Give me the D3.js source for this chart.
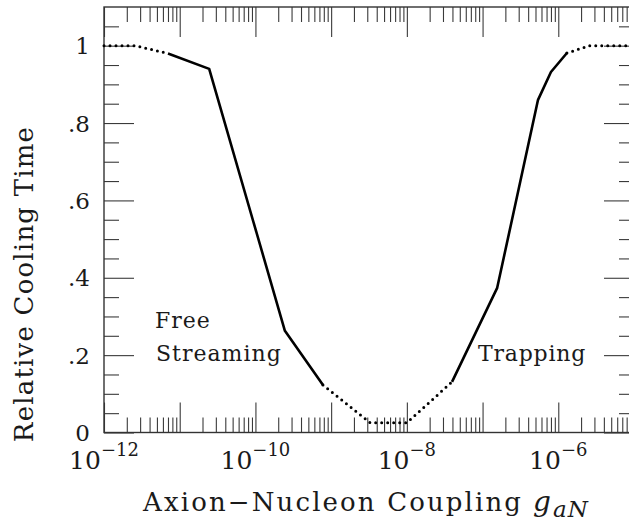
<!DOCTYPE html>
<html>
<head>
<meta charset="utf-8">
<script src="https://cdn.jsdelivr.net/npm/d3@7"></script>
<style>
  html, body { margin: 0; padding: 0; background: #fff; }
  svg { display: block; }
  text { font-family: "DejaVu Serif", serif; fill: #1a1a1a; }
</style>
</head>
<body>
<svg id="chart" width="629" height="523"></svg>
<script>
// ---- data ----
const coupling = [1e-12, 2.57e-12, 7e-12, 2.45e-11, 2.45e-10, 7.8e-10, 3.3e-9, 1e-8, 3.95e-8, 1.56e-7, 5.4e-7, 8e-7, 1.3e-6, 2.6e-6, 1e-5];
const coolingTime = [1.0, 1.0, 0.98, 0.94, 0.263, 0.123, 0.025, 0.025, 0.131, 0.374, 0.86, 0.932, 0.981, 1.0, 1.0];
// kind of each segment between consecutive points
const segmentKind = ["dotted", "dotted", "solid", "solid", "solid", "dotted", "dotted", "dotted", "solid", "solid", "solid", "solid", "dotted", "dotted"];
const xMajorTicks = [1e-12, 1e-11, 1e-10, 1e-9, 1e-8, 1e-7, 1e-6, 1e-5];
const xLabelTicks = [1e-12, 1e-10, 1e-8, 1e-6];
const xLabelExp = ["\u221212", "\u221210", "\u22128", "\u22126"];
const yMajorTicks = [0, 0.2, 0.4, 0.6, 0.8, 1.0];
const yLabels = ["0", ".2", ".4", ".6", ".8", "1"];
const yMinorTicks = [0.05, 0.1, 0.15, 0.25, 0.3, 0.35, 0.45, 0.5, 0.55, 0.65, 0.7, 0.75, 0.85, 0.9, 0.95, 1.05];
const annotations = [
  {lines: ["Free", "Streaming"]},
  {lines: ["Trapping"]}
];

// ---- layout ----
const L = 104, R = 634, T = 7, B = 432.5;
const svg = d3.select("#chart");
const x = d3.scaleLog().domain([1e-12, 1e-5]).range([L, R]);
const y = d3.scaleLinear().domain([0, 1.1]).range([B, T]);

const xMinorTicks = [];
for (let e = -12; e < -5; e++) for (let m = 2; m <= 9; m++) xMinorTicks.push(m * Math.pow(10, e));

const tickColor = "#3a3a3a";
function styleAxis(g) {
  g.select(".domain").remove();
  g.selectAll(".tick line").attr("stroke", tickColor).attr("stroke-width", 1.1);
  g.selectAll(".tick text").remove();
}
function addAxis(gen, tx, ty, values, size) {
  svg.append("g").attr("transform", `translate(${tx},${ty})`)
    .call(gen.tickValues(values).tickSize(size).tickFormat(""))
    .call(styleAxis);
}
addAxis(d3.axisTop(x), 0, B, xMajorTicks, 30);
addAxis(d3.axisTop(x), 0, B, xMinorTicks, 15);
addAxis(d3.axisBottom(x), 0, T, xMajorTicks, 30);
addAxis(d3.axisBottom(x), 0, T, xMinorTicks, 15);
addAxis(d3.axisRight(y), L, 0, yMajorTicks, 30);
addAxis(d3.axisRight(y), L, 0, yMinorTicks, 15);
addAxis(d3.axisLeft(y), R, 0, yMajorTicks, 30);
addAxis(d3.axisLeft(y), R, 0, yMinorTicks, 15);

// frame
svg.append("rect").attr("x", L).attr("y", T).attr("width", R - L).attr("height", B - T)
  .attr("fill", "none").attr("stroke", "#333").attr("stroke-width", 1.4);

// curve
const line = d3.line().x(d => x(d[0])).y(d => y(d[1]));
const pts = coupling.map((c, i) => [c, coolingTime[i]]);
let runs = [];
segmentKind.forEach((k, i) => {
  if (runs.length && runs[runs.length - 1].kind === k) runs[runs.length - 1].pts.push(pts[i + 1]);
  else runs.push({kind: k, pts: [pts[i], pts[i + 1]]});
});
runs.forEach(r => {
  const p = svg.append("path").attr("d", line(r.pts)).attr("fill", "none").attr("stroke", "#000");
  if (r.kind === "solid") {
    p.attr("stroke-width", 2.6).attr("stroke-linejoin", "round").attr("stroke-linecap", "butt");
  } else {
    p.attr("stroke-width", 3).attr("stroke-linecap", "round").attr("stroke-dasharray", "0 6");
  }
});

// x tick labels
xLabelTicks.forEach((v, i) => {
  const t = svg.append("text").attr("x", x(v)).attr("y", 469).attr("text-anchor", "middle");
  t.append("tspan").attr("font-size", 25).text("10");
  t.append("tspan").attr("font-size", 18).attr("dy", -13).text(xLabelExp[i]);
});
// y tick labels
yMajorTicks.forEach((v, i) => {
  svg.append("text").attr("x", 90).attr("y", y(v) + 8.5).attr("text-anchor", "end")
    .attr("font-size", 23).text(yLabels[i]);
});

// axis titles
svg.append("text").attr("x", 143).attr("y", 511).attr("font-size", 26)
  .attr("textLength", 378).attr("lengthAdjust", "spacing")
  .text("Axion\u2212Nucleon  Coupling");
svg.append("text").attr("x", 533).attr("y", 511).attr("font-size", 28).attr("font-style", "italic").text("g");
svg.append("text").attr("x", 553).attr("y", 517).attr("font-size", 23).attr("font-style", "italic")
  .attr("letter-spacing", 1).text("aN");

svg.append("text").attr("transform", "translate(33,284) rotate(-90)").attr("text-anchor", "middle")
  .attr("font-size", 26).attr("letter-spacing", 1.2).text("Relative  Cooling  Time");

// annotations
svg.append("text").attr("x", 155).attr("y", 328).attr("font-size", 22).attr("letter-spacing", 1).text(annotations[0].lines[0]);
svg.append("text").attr("x", 156).attr("y", 361).attr("font-size", 22).attr("letter-spacing", 1).text(annotations[0].lines[1]);
svg.append("text").attr("x", 478).attr("y", 361).attr("font-size", 22).attr("letter-spacing", 0.8).text(annotations[1].lines[0]);
</script>
</body>
</html>
